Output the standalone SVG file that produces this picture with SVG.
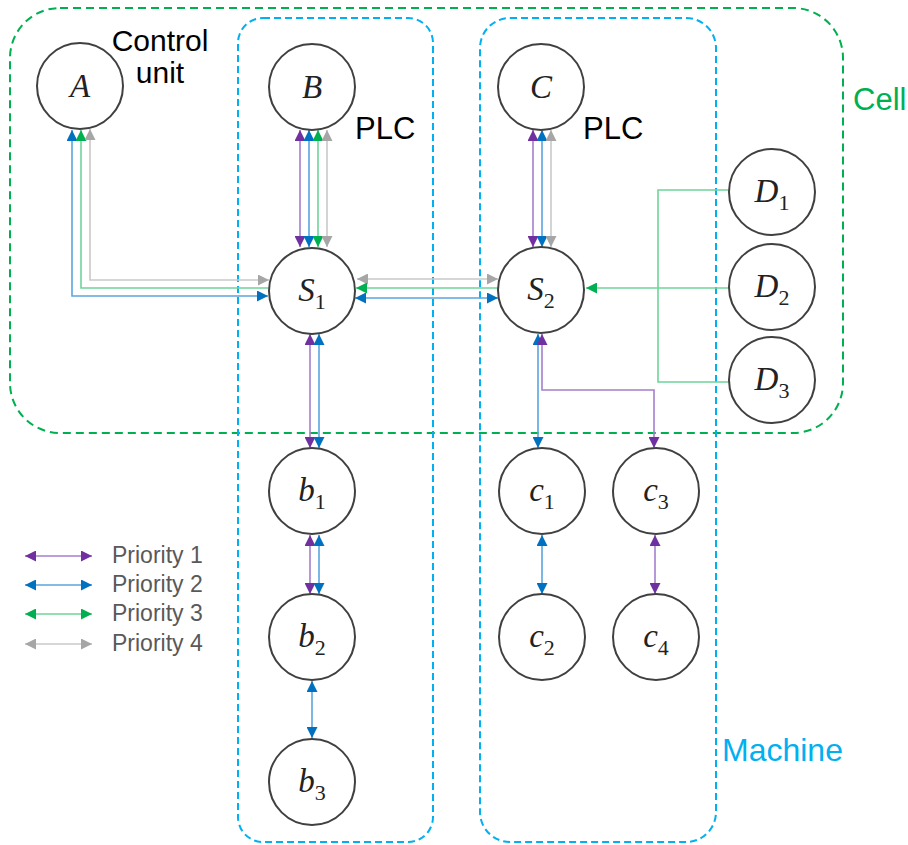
<svg xmlns="http://www.w3.org/2000/svg" width="908" height="845" viewBox="0 0 908 845">
<defs>
<style>
.node circle{fill:#fff;stroke:#404040;stroke-width:2}
.lbl{font-family:"Liberation Serif","DejaVu Serif",serif;font-style:italic;font-size:33px;fill:#222;text-anchor:middle}
.sub{font-style:normal;font-size:22px}
.txt{font-family:"Liberation Sans",Arial,sans-serif;font-size:31px;fill:#000}
.leg{font-family:"Liberation Sans",Arial,sans-serif;font-size:23px;fill:#595959}
.cont{fill:none;stroke-width:2}
.p1{fill:none;stroke:#a47fcc;stroke-width:1.6}
.p2{fill:none;stroke:#5aa5e0;stroke-width:1.6}
.p3{fill:none;stroke:#6fd49b;stroke-width:1.6}
.p4{fill:none;stroke:#c9c9c9;stroke-width:1.6}
.p1.s{marker-start:url(#m1)}.p1.e{marker-end:url(#m1)}
.p2.s{marker-start:url(#m2)}.p2.e{marker-end:url(#m2)}
.p3.s{marker-start:url(#m3)}.p3.e{marker-end:url(#m3)}
.p4.s{marker-start:url(#m4)}.p4.e{marker-end:url(#m4)}
</style>
<marker id="m1" viewBox="0 0 10 10" refX="10" refY="5" markerWidth="11" markerHeight="11" markerUnits="userSpaceOnUse" orient="auto-start-reverse"><path d="M0,0 L10,5 L0,10 z" fill="#7030a0"/></marker>
<marker id="m2" viewBox="0 0 10 10" refX="10" refY="5" markerWidth="11" markerHeight="11" markerUnits="userSpaceOnUse" orient="auto-start-reverse"><path d="M0,0 L10,5 L0,10 z" fill="#0070c0"/></marker>
<marker id="m3" viewBox="0 0 10 10" refX="10" refY="5" markerWidth="11" markerHeight="11" markerUnits="userSpaceOnUse" orient="auto-start-reverse"><path d="M0,0 L10,5 L0,10 z" fill="#00b050"/></marker>
<marker id="m4" viewBox="0 0 10 10" refX="10" refY="5" markerWidth="11" markerHeight="11" markerUnits="userSpaceOnUse" orient="auto-start-reverse"><path d="M0,0 L10,5 L0,10 z" fill="#a6a6a6"/></marker>
</defs>
<rect width="908" height="845" fill="#fff"/>

<g id="containers">
<rect id="cell" class="cont" x="10" y="8" width="833" height="425" rx="50" stroke="#00b050" stroke-dasharray="8 5"/>
<rect id="machine1" class="cont" x="238" y="18" width="195" height="824" rx="25" stroke="#00b0f0" stroke-dasharray="7 4"/>
<rect id="machine2" class="cont" x="480" y="18" width="236" height="824" rx="30" stroke="#00b0f0" stroke-dasharray="7 4"/>
<text class="txt" x="853" y="110" style="fill:#00b050">Cell</text>
<text class="txt" x="722" y="761" style="fill:#00b0f0;font-size:32px">Machine</text>
<text class="txt" x="160" y="51" text-anchor="middle" style="font-size:30px">Control</text>
<text class="txt" x="160" y="83" text-anchor="middle" style="font-size:30px">unit</text>
<text class="txt" x="355" y="139">PLC</text>
<text class="txt" x="583" y="139">PLC</text>
</g>

<g id="connectors">
<!-- A - S1 -->
<path class="p2 s e" d="M72,130 V296 H268"/>
<path class="p3 s" d="M81,130 V288 H269"/>
<path class="p4 s e" d="M90,129 V280 H269"/>
<!-- B - S1 -->
<path class="p1 s e" d="M300,130 V247"/>
<path class="p2 s e" d="M309,130 V247"/>
<path class="p3 s e" d="M318,130 V247"/>
<path class="p4 s e" d="M327,130 V247"/>
<!-- C - S2 -->
<path class="p1 s e" d="M533,130 V247"/>
<path class="p2 s e" d="M542,130 V247"/>
<path class="p4 s e" d="M551,130 V247"/>
<!-- S1 - S2 -->
<path class="p4 s e" d="M357,279 H498"/>
<path class="p3 s" d="M356,288 H499"/>
<path class="p2 s e" d="M355,298 H498"/>
<!-- D - S2 -->
<path class="p3" d="M729,190 H658 V382 H730"/>
<path class="p3 e" d="M729,288 H586"/>
<!-- S2 - c1, c3 -->
<path class="p2 s e" d="M538,334 V448"/>
<path class="p1 s e" d="M542,334 V390 H654 V448"/>
<!-- S1 - b1 -->
<path class="p1 s e" d="M310,334 V448"/>
<path class="p2 s e" d="M319,334 V448"/>
<!-- b1 - b2 -->
<path class="p1 s e" d="M310,535 V594"/>
<path class="p2 s e" d="M319,535 V594"/>
<!-- b2 - b3 -->
<path class="p2 s e" d="M312,681 V738"/>
<!-- c1 - c2 -->
<path class="p2 s e" d="M542,535 V594"/>
<!-- c3 - c4 -->
<path class="p1 s e" d="M655,535 V594"/>
</g>

<g id="legend">
<path class="p1 s e" d="M25,556 H92"/>
<path class="p2 s e" d="M25,585 H92"/>
<path class="p3 s e" d="M25,614 H92"/>
<path class="p4 s e" d="M25,644 H92"/>
<text class="leg" x="112" y="563">Priority 1</text>
<text class="leg" x="112" y="592">Priority 2</text>
<text class="leg" x="112" y="621">Priority 3</text>
<text class="leg" x="112" y="651">Priority 4</text>
</g>

<g id="node-A" class="node"><circle cx="80" cy="86" r="43"/><text class="lbl" x="80" y="97">A</text></g>
<g id="node-B" class="node"><circle cx="312" cy="87" r="43"/><text class="lbl" x="312" y="98">B</text></g>
<g id="node-C" class="node"><circle cx="541" cy="87" r="43"/><text class="lbl" x="541" y="98">C</text></g>
<g id="node-S1" class="node"><circle cx="312" cy="291" r="43"/><text class="lbl" x="312" y="301">S<tspan class="sub" dy="8">1</tspan></text></g>
<g id="node-S2" class="node"><circle cx="541" cy="290" r="43"/><text class="lbl" x="541" y="300">S<tspan class="sub" dy="8">2</tspan></text></g>
<g id="node-D1" class="node"><circle cx="772" cy="192" r="43"/><text class="lbl" x="772" y="202">D<tspan class="sub" dy="8">1</tspan></text></g>
<g id="node-D2" class="node"><circle cx="772" cy="287" r="43"/><text class="lbl" x="772" y="297">D<tspan class="sub" dy="8">2</tspan></text></g>
<g id="node-D3" class="node"><circle cx="772" cy="380" r="43"/><text class="lbl" x="772" y="390">D<tspan class="sub" dy="8">3</tspan></text></g>
<g id="node-b1" class="node"><circle cx="312" cy="491" r="43"/><text class="lbl" x="312" y="501">b<tspan class="sub" dy="8">1</tspan></text></g>
<g id="node-b2" class="node"><circle cx="312" cy="637" r="43"/><text class="lbl" x="312" y="647">b<tspan class="sub" dy="8">2</tspan></text></g>
<g id="node-b3" class="node"><circle cx="312" cy="782" r="43"/><text class="lbl" x="312" y="792">b<tspan class="sub" dy="8">3</tspan></text></g>
<g id="node-c1" class="node"><circle cx="542" cy="491" r="43"/><text class="lbl" x="542" y="501">c<tspan class="sub" dy="8">1</tspan></text></g>
<g id="node-c2" class="node"><circle cx="542" cy="637" r="43"/><text class="lbl" x="542" y="647">c<tspan class="sub" dy="8">2</tspan></text></g>
<g id="node-c3" class="node"><circle cx="656" cy="491" r="43"/><text class="lbl" x="656" y="501">c<tspan class="sub" dy="8">3</tspan></text></g>
<g id="node-c4" class="node"><circle cx="656" cy="637" r="43"/><text class="lbl" x="656" y="647">c<tspan class="sub" dy="8">4</tspan></text></g>
</svg>
